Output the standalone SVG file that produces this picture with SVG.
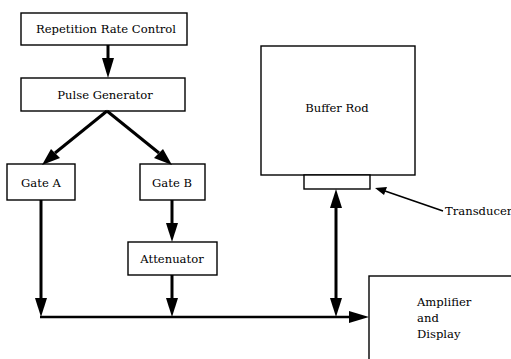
<svg xmlns="http://www.w3.org/2000/svg" width="511" height="359" viewBox="0 0 511 359">
  <style>
    .box { fill: #fff; stroke: #000; stroke-width: 1.4; }
    .lbl { font-family: "DejaVu Serif", serif; font-size: 11.6px; fill: #000; }
    .mid { text-anchor: middle; }
    .wire { fill: none; stroke: #000; stroke-width: 3; }
    .bus { fill: none; stroke: #000; stroke-width: 2.5; }
    .thin { fill: none; stroke: #000; stroke-width: 1.6; }
    .tip { fill: #000; }
  </style>

  <g id="repetition-rate-control">
    <rect class="box" x="21" y="13" width="166" height="32"/>
    <text class="lbl mid" x="106" y="33">Repetition Rate Control</text>
  </g>
  <g id="pulse-generator">
    <rect class="box" x="21" y="78" width="164" height="33"/>
    <text class="lbl mid" x="105" y="99">Pulse Generator</text>
  </g>
  <g id="gate-a">
    <rect class="box" x="7" y="164" width="68" height="36"/>
    <text class="lbl mid" x="41" y="187">Gate A</text>
  </g>
  <g id="gate-b">
    <rect class="box" x="140" y="164" width="65" height="36"/>
    <text class="lbl mid" x="172" y="187">Gate B</text>
  </g>
  <g id="attenuator">
    <rect class="box" x="128" y="242" width="89" height="33"/>
    <text class="lbl mid" x="172" y="263">Attenuator</text>
  </g>
  <g id="buffer-rod">
    <rect class="box" x="261" y="46" width="154" height="129"/>
    <text class="lbl mid" x="337" y="112">Buffer Rod</text>
  </g>
  <g id="transducer">
    <rect class="box" x="304" y="175" width="66" height="14"/>
    <text class="lbl" x="445" y="215">Transducer</text>
  </g>
  <g id="amplifier-display">
    <rect class="box" x="369" y="276" width="150" height="100"/>
    <text class="lbl" x="417" y="306">Amplifier</text>
    <text class="lbl" x="417" y="322">and</text>
    <text class="lbl" x="417" y="338">Display</text>
  </g>

  <g id="connectors">
    <!-- shafts -->
    <line class="wire" x1="108" y1="45" x2="108" y2="60"/>
    <line class="wire" x1="107" y1="111" x2="55" y2="153"/>
    <line class="wire" x1="107" y1="111" x2="159" y2="153"/>
    <line class="wire" x1="41" y1="200" x2="41" y2="300"/>
    <line class="wire" x1="172" y1="200" x2="172" y2="225"/>
    <line class="wire" x1="172" y1="275" x2="172" y2="300"/>
    <line class="bus" x1="40" y1="317" x2="350" y2="317"/>
    <line class="wire" x1="336" y1="205" x2="336" y2="300"/>
    <line class="thin" x1="443" y1="211" x2="385" y2="191"/>
    <!-- arrowheads -->
    <path class="tip" d="M102,58 L114,58 L108,78 Z"/>
    <path class="tip" d="M51,149 L60,158 L42,165 Z"/>
    <path class="tip" d="M154,158 L163,149 L172,165 Z"/>
    <path class="tip" d="M35,298 L47,298 L41,317 Z"/>
    <path class="tip" d="M166,223 L178,223 L172,242 Z"/>
    <path class="tip" d="M166,298 L178,298 L172,317 Z"/>
    <path class="tip" d="M349,311 L349,323 L369,317 Z"/>
    <path class="tip" d="M330,208 L342,208 L336,189 Z"/>
    <path class="tip" d="M330,298 L342,298 L336,317 Z"/>
    <path class="tip" d="M387,187 L384,195 L375,188 Z"/>
  </g>
</svg>
